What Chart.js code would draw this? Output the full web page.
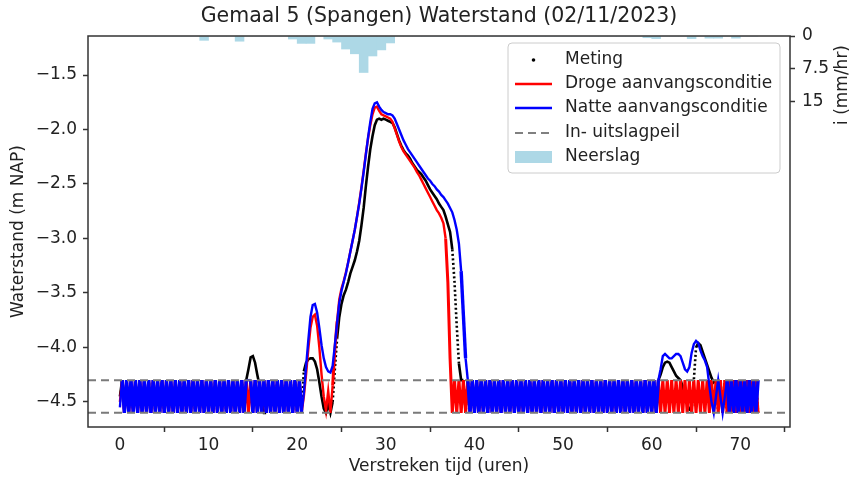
<!DOCTYPE html>
<html>
<head>
<meta charset="utf-8">
<script src="https://cdn.jsdelivr.net/npm/chart.js@4.4.1/dist/chart.umd.min.js"></script>
<style>
html,body{margin:0;padding:0;background:#fff;}
#wrap{width:854px;height:482px;}
</style>
</head>
<body>
<div id="wrap"><canvas id="c" width="854" height="482"></canvas></div>
<script>
// ---- DATA ----
const titel = 'Gemaal 5 (Spangen) Waterstand (02/11/2023)';
const xLabel = 'Verstreken tijd (uren)';
const yLabel = 'Waterstand (m NAP)';
const y2Label = 'i (mm/hr)';
const xTicks = [0, 10, 20, 30, 40, 50, 60, 70];
const yTicks = [-4.5, -4.0, -3.5, -3.0, -2.5, -2.0, -1.5];
const y2Ticks = [0, 7.5, 15];
const peilen = [-4.3, -4.6]; // in- en uitslagpeil

// time grid: every quarter hour, 0 .. 72 h
const tijd = Array.from({length: 289}, (_, i) => i * 0.25);

const meting = [
 -4.45,
 -4.3,-4.6,-4.3,-4.6,-4.3,-4.6,-4.3,-4.6,
 -4.3,-4.6,-4.3,-4.6,-4.3,-4.6,-4.3,-4.6,
 -4.3,-4.6,-4.3,-4.6,-4.3,-4.6,-4.3,-4.6,
 -4.3,-4.6,-4.3,-4.6,-4.3,-4.6,-4.3,-4.6,
 -4.3,-4.6,-4.3,-4.6,-4.3,-4.6,-4.3,-4.6,
 -4.3,-4.6,-4.3,-4.6,-4.3,-4.6,-4.3,-4.6,
 -4.3,-4.6,-4.3,-4.6,-4.3,-4.6,-4.3,-4.6,
 -4.3,-4.2,-4.09,-4.08,-4.14,-4.25,-4.35,-4.5,-4.6,
 -4.6,-4.3,-4.6,-4.3,-4.6,-4.3,-4.6,-4.3,
 -4.6,-4.3,-4.6,-4.3,-4.6,-4.3,-4.6,-4.3,
 -4.6,
 -4.22,-4.14,-4.11,-4.1,-4.1,-4.13,-4.2,-4.32,-4.45,-4.56,-4.6,-4.52,-4.6,-4.5,
 -4.2,-3.92,-3.72,-3.6,-3.52,-3.47,-3.4,-3.32,-3.26,-3.2,
 -3.12,-3.02,-2.88,-2.72,-2.52,-2.34,-2.18,-2.06,-1.96,-1.91,
 -1.9,-1.91,-1.9,-1.91,-1.92,-1.93,-1.94,-1.98,-2.04,-2.1,
 -2.15,-2.19,-2.22,-2.24,-2.27,-2.31,-2.34,-2.37,-2.39,-2.41,
 -2.44,-2.47,-2.51,-2.55,-2.58,-2.61,-2.64,-2.68,-2.71,-2.74,
 -2.8,-2.87,-2.94,-3.1,-3.4,-3.8,-4.15,-4.3,
 -4.3,-4.6,-4.3,-4.6,-4.3,-4.6,-4.3,-4.6,
 -4.3,-4.6,-4.3,-4.6,-4.3,-4.6,-4.3,-4.6,
 -4.3,-4.6,-4.3,-4.6,-4.3,-4.6,-4.3,-4.6,
 -4.3,-4.6,-4.3,-4.6,-4.3,-4.6,-4.3,-4.6,
 -4.3,-4.6,-4.3,-4.6,-4.3,-4.6,-4.3,-4.6,
 -4.3,-4.6,-4.3,-4.6,-4.3,-4.6,-4.3,-4.6,
 -4.3,-4.6,-4.3,-4.6,-4.3,-4.6,-4.3,-4.6,
 -4.3,-4.6,-4.3,-4.6,-4.3,-4.6,-4.3,-4.6,
 -4.3,-4.6,-4.3,-4.6,-4.3,-4.6,-4.3,-4.6,
 -4.3,-4.6,-4.3,-4.6,-4.3,-4.6,-4.3,-4.6,
 -4.3,-4.6,-4.3,-4.6,-4.3,-4.6,-4.3,-4.6,
 -4.3,
 -4.25,-4.18,-4.14,-4.13,-4.14,-4.18,-4.22,-4.26,-4.28,-4.3,
 -4.36,-4.45,-4.52,-4.57,-4.58,-4.3,-4.0,-3.96,-3.98,-4.04,
 -4.1,-4.16,-4.22,-4.28,-4.32,
 -4.3,-4.6,-4.3,-4.6,-4.3,-4.6,-4.3,-4.6,
 -4.3,-4.6,-4.3,-4.6,-4.3,-4.6,-4.3,-4.6,
 -4.3,-4.6,-4.3,-4.6
];

const droog = [
 -4.5,
 -4.3,-4.6,-4.3,-4.6,-4.3,-4.6,-4.3,-4.6,
 -4.3,-4.6,-4.3,-4.6,-4.3,-4.6,-4.3,-4.6,
 -4.3,-4.6,-4.3,-4.6,-4.3,-4.6,-4.3,-4.6,
 -4.3,-4.6,-4.3,-4.6,-4.3,-4.6,-4.3,-4.6,
 -4.3,-4.6,-4.3,-4.6,-4.3,-4.6,-4.3,-4.6,
 -4.3,-4.6,-4.3,-4.6,-4.3,-4.6,-4.3,-4.6,
 -4.3,-4.6,-4.3,-4.6,-4.3,-4.6,-4.3,-4.6,
 -4.3,-4.6,-4.3,-4.6,-4.3,-4.6,-4.3,-4.6,
 -4.3,-4.6,-4.3,-4.6,-4.3,-4.6,-4.3,-4.6,
 -4.3,-4.6,-4.3,-4.6,-4.3,-4.6,-4.3,-4.6,
 -4.3,-4.6,
 -4.45,-4.25,-4.02,-3.82,-3.72,-3.7,-3.8,-4.0,-4.25,-4.45,
 -4.58,-4.4,-4.6,-4.35,-4.02,-3.76,-3.56,-3.46,-3.39,-3.31,
 -3.22,-3.12,-3.02,-2.92,-2.8,-2.67,-2.53,-2.38,-2.22,-2.08,
 -1.96,-1.86,-1.8,-1.79,-1.83,-1.86,-1.87,-1.88,-1.89,-1.9,
 -1.93,-1.99,-2.05,-2.11,-2.16,-2.2,-2.23,-2.26,-2.29,-2.32,
 -2.35,-2.39,-2.42,-2.46,-2.5,-2.54,-2.58,-2.62,-2.66,-2.7,
 -2.74,-2.77,-2.81,-2.86,-3.0,-3.4,-4.1,-4.6,
 -4.3,-4.6,-4.3,-4.6,-4.3,-4.6,-4.3,-4.6,
 -4.3,-4.6,-4.3,-4.6,-4.3,-4.6,-4.3,-4.6,
 -4.3,-4.6,-4.3,-4.6,-4.3,-4.6,-4.3,-4.6,
 -4.3,-4.6,-4.3,-4.6,-4.3,-4.6,-4.3,-4.6,
 -4.3,-4.6,-4.3,-4.6,-4.3,-4.6,-4.3,-4.6,
 -4.3,-4.6,-4.3,-4.6,-4.3,-4.6,-4.3,-4.6,
 -4.3,-4.6,-4.3,-4.6,-4.3,-4.6,-4.3,-4.6,
 -4.3,-4.6,-4.3,-4.6,-4.3,-4.6,-4.3,-4.6,
 -4.3,-4.6,-4.3,-4.6,-4.3,-4.6,-4.3,-4.6,
 -4.3,-4.6,-4.3,-4.6,-4.3,-4.6,-4.3,-4.6,
 -4.3,-4.6,-4.3,-4.6,-4.3,-4.6,-4.3,-4.6,
 -4.3,-4.6,-4.3,-4.6,-4.3,-4.6,-4.3,-4.6,
 -4.3,-4.6,-4.3,-4.6,-4.3,-4.6,-4.3,-4.6,
 -4.3,-4.6,-4.3,-4.6,-4.3,-4.6,-4.3,-4.6,
 -4.3,-4.6,-4.3,-4.6,-4.3,-4.6,-4.3,-4.6,
 -4.3,-4.6,-4.3,-4.6,-4.3,-4.6,-4.3,-4.6,
 -4.3,-4.6,-4.3,-4.6,-4.3,-4.6,-4.3,-4.6,
 -4.3,-4.6
];

const nat = [
 -4.55,
 -4.3,-4.6,-4.3,-4.6,-4.3,-4.6,-4.3,-4.6,
 -4.3,-4.6,-4.3,-4.6,-4.3,-4.6,-4.3,-4.6,
 -4.3,-4.6,-4.3,-4.6,-4.3,-4.6,-4.3,-4.6,
 -4.3,-4.6,-4.3,-4.6,-4.3,-4.6,-4.3,-4.6,
 -4.3,-4.6,-4.3,-4.6,-4.3,-4.6,-4.3,-4.6,
 -4.3,-4.6,-4.3,-4.6,-4.3,-4.6,-4.3,-4.6,
 -4.3,-4.6,-4.3,-4.6,-4.3,-4.6,-4.3,-4.6,
 -4.3,-4.3,-4.3,
 -4.6,-4.3,-4.6,-4.3,-4.6,-4.3,-4.6,-4.3,
 -4.6,-4.3,-4.6,-4.3,-4.6,-4.3,-4.6,-4.3,
 -4.6,-4.3,-4.6,-4.3,-4.6,-4.3,
 -4.6,
 -4.42,-4.18,-3.94,-3.72,-3.61,-3.6,-3.68,-3.82,-3.98,-4.1,
 -4.18,-4.22,-4.23,-4.17,-3.98,-3.78,-3.59,-3.48,-3.4,-3.32,
 -3.22,-3.12,-3.02,-2.92,-2.8,-2.68,-2.54,-2.39,-2.23,-2.07,
 -1.93,-1.81,-1.76,-1.75,-1.79,-1.82,-1.84,-1.85,-1.86,-1.86,
 -1.87,-1.9,-1.95,-2.0,-2.05,-2.1,-2.14,-2.18,-2.21,-2.24,
 -2.27,-2.3,-2.33,-2.36,-2.39,-2.42,-2.45,-2.47,-2.5,-2.52,
 -2.55,-2.57,-2.6,-2.62,-2.65,-2.68,-2.72,-2.76,-2.83,-2.92,
 -3.05,-3.3,-3.7,-4.1,-4.3,
 -4.6,-4.3,-4.6,-4.3,-4.6,-4.3,-4.6,-4.3,
 -4.6,-4.3,-4.6,-4.3,-4.6,-4.3,-4.6,-4.3,
 -4.6,-4.3,-4.6,-4.3,-4.6,-4.3,-4.6,-4.3,
 -4.6,-4.3,-4.6,-4.3,-4.6,-4.3,-4.6,-4.3,
 -4.6,-4.3,-4.6,-4.3,-4.6,-4.3,-4.6,-4.3,
 -4.6,-4.3,-4.6,-4.3,-4.6,-4.3,-4.6,-4.3,
 -4.6,-4.3,-4.6,-4.3,-4.6,-4.3,-4.6,-4.3,
 -4.6,-4.3,-4.6,-4.3,-4.6,-4.3,-4.6,-4.3,
 -4.6,-4.3,-4.6,-4.3,-4.6,-4.3,-4.6,-4.3,
 -4.6,-4.3,-4.6,-4.3,-4.6,-4.3,-4.6,-4.3,
 -4.6,-4.3,-4.6,-4.3,-4.6,-4.3,
 -4.2,-4.08,-4.06,-4.08,-4.1,-4.1,-4.08,-4.06,-4.06,-4.08,
 -4.14,-4.2,-4.22,-4.18,-4.05,-3.97,-3.94,-3.96,-4.03,-4.08,
 -4.12,-4.18,-4.35,-4.5,-4.6,
 -4.45,-4.3,-4.45,-4.6,-4.45,-4.3,-4.6,-4.3,-4.6,-4.3,
 -4.6,-4.3,-4.6,-4.3,-4.6,-4.3,-4.6,-4.3,-4.6,-4.3
];

// hourly precipitation (mm/hr), hour 0 .. 71
const neerslag = [
 0,0,0,0,0,0,0,0,0,1.0,
 0,0,0,1.2,0,0,0,0,0,0.7,
 1.7,1.7,0,0.7,1.4,3.0,4.1,8.4,4.6,3.2,
 1.6,0,0,0,0,0,0,0,0,0,
 0,0,0,0,0,0,0,0,0,0,
 0,0,0,0,0,0,0,0,0,0.4,
 0.6,0,0,0,0.6,0,0.5,0.5,0,0.5,
 0,0
];
const uren = neerslag.map((_, h) => h + 0.5);

if (meting.length !== 289 || droog.length !== 289 || nat.length !== 289) {
  console.error('lengths', meting.length, droog.length, nat.length);
}

// ---- CHART ----
const FONT = 'DejaVu Sans';
const toXY = arr => tijd.map((t, i) => ({x: t, y: arr[i]}));
const fmt = v => (v < 0 ? '\u2212' : '') + Math.abs(v).toFixed(1);
const xMin = -3.6, xMax = 75.6;
const steep = c => Math.abs(c.p1.parsed.y - c.p0.parsed.y) > 0.25;

const deco = {
  id: 'deco',
  afterDraw(chart) {
    const ctx = chart.ctx, a = chart.chartArea;
    ctx.save();
    ctx.strokeStyle = '#333';
    ctx.lineWidth = 1.5;
    ctx.strokeRect(a.left, a.top, a.right - a.left, a.bottom - a.top);
    ctx.fillStyle = '#222';
    ctx.textAlign = 'center';
    ctx.textBaseline = 'middle';
    ctx.font = '20.5px "' + FONT + '"';
    ctx.fillText(titel, (a.left + a.right) / 2, 17);
    ctx.font = '17px "' + FONT + '"';
    ctx.fillText(xLabel, (a.left + a.right) / 2, 467);
    ctx.save();
    ctx.translate(19, (a.top + a.bottom) / 2);
    ctx.rotate(-Math.PI / 2);
    ctx.fillText(yLabel, 0, 0);
    ctx.restore();
    ctx.save();
    ctx.translate(843, 85);
    ctx.rotate(-Math.PI / 2);
    ctx.fillText(y2Label, 0, 0);
    ctx.restore();
    // legend
    const lx = 508, ly = 43, lw = 272, lh = 130;
    ctx.beginPath();
    ctx.roundRect(lx, ly, lw, lh, 4);
    ctx.fillStyle = 'rgba(255,255,255,0.85)';
    ctx.fill();
    ctx.strokeStyle = '#cccccc';
    ctx.lineWidth = 1;
    ctx.stroke();
    const items = ['Meting', 'Droge aanvangsconditie', 'Natte aanvangsconditie', 'In- uitslagpeil', 'Neerslag'];
    const ys = [60, 84, 108, 133, 157];
    const hx0 = 515, hx1 = 552;
    items.forEach((txt, k) => {
      const y = ys[k];
      ctx.save();
      if (k === 0) {
        ctx.fillStyle = '#000';
        ctx.beginPath(); ctx.arc((hx0 + hx1) / 2, y, 1.8, 0, Math.PI * 2); ctx.fill();
      } else if (k === 1 || k === 2) {
        ctx.strokeStyle = k === 1 ? '#ff0000' : '#0000ff';
        ctx.lineWidth = 2.5;
        ctx.beginPath(); ctx.moveTo(hx0, y); ctx.lineTo(hx1, y); ctx.stroke();
      } else if (k === 3) {
        ctx.strokeStyle = '#808080';
        ctx.lineWidth = 2;
        ctx.setLineDash([8, 5]);
        ctx.beginPath(); ctx.moveTo(hx0, y); ctx.lineTo(hx1, y); ctx.stroke();
      } else {
        ctx.fillStyle = '#add8e6';
        ctx.fillRect(hx0, y - 6, hx1 - hx0, 12);
      }
      ctx.restore();
      ctx.fillStyle = '#222';
      ctx.textAlign = 'left';
      ctx.textBaseline = 'middle';
      ctx.font = '17px "' + FONT + '"';
      ctx.fillText(txt, 565, y);
    });
    ctx.restore();
  }
};

const tickFont = {family: FONT, size: 17};

new Chart(document.getElementById('c'), {
  type: 'line',
  data: {
    datasets: [
      {
        type: 'bar', label: 'Neerslag', yAxisID: 'y2', order: 0,
        data: uren.map((u, i) => ({x: u, y: neerslag[i]})),
        backgroundColor: '#add8e6', borderWidth: 0,
        barPercentage: 1.0, categoryPercentage: 1.0
      },
      {
        label: 'In- uitslagpeil', order: 1,
        data: [{x: xMin, y: peilen[0]}, {x: xMax, y: peilen[0]}],
        borderColor: '#7a7a7a', borderWidth: 2, borderDash: [8, 5], pointRadius: 0
      },
      {
        label: 'In- uitslagpeil 2', order: 1,
        data: [{x: xMin, y: peilen[1]}, {x: xMax, y: peilen[1]}],
        borderColor: '#7a7a7a', borderWidth: 2, borderDash: [8, 5], pointRadius: 0
      },
      {
        label: 'Natte aanvangsconditie', order: 2,
        data: toXY(nat), borderColor: '#0000ff', borderWidth: 2.4,
        pointRadius: 0, tension: 0,
        segment: {borderWidth: c => steep(c) ? 3.4 : undefined}
      },
      {
        label: 'Droge aanvangsconditie', order: 3,
        data: toXY(droog), borderColor: '#ff0000', borderWidth: 2.4,
        pointRadius: 0, tension: 0,
        segment: {borderWidth: c => steep(c) ? 3.0 : undefined}
      },
      {
        label: 'Meting', order: 4,
        data: toXY(meting), borderColor: '#000000', borderWidth: 2.6,
        pointRadius: 0, tension: 0,
        segment: {borderDash: c => steep(c) ? [2, 2.5] : undefined}
      }
    ]
  },
  options: {
    responsive: false,
    animation: false,
    events: [],
    layout: {padding: {top: 36, left: 0, right: 0, bottom: 0}},
    plugins: {legend: {display: false}, tooltip: {enabled: false}, title: {display: false}},
    scales: {
      x: {
        type: 'linear', min: xMin, max: xMax, offset: false,
        afterBuildTicks: s => { s.ticks = xTicks.map(v => ({value: v})); },
        afterFit: s => { s.height = 55; },
        grid: {drawOnChartArea: false, drawTicks: true, tickLength: 5, tickColor: '#333', tickWidth: 1.5},
        border: {display: false},
        ticks: {font: tickFont, color: '#222', padding: 3, maxRotation: 0, autoSkip: false, callback: v => String(v)}
      },
      y: {
        type: 'linear', position: 'left', min: -4.73, max: -1.142,
        afterBuildTicks: s => { s.ticks = yTicks.map(v => ({value: v})); },
        afterFit: s => { s.width = 88; },
        grid: {drawOnChartArea: false, drawTicks: true, tickLength: 5, tickColor: '#333', tickWidth: 1.5},
        border: {display: false},
        ticks: {font: tickFont, color: '#222', padding: 6, autoSkip: false, callback: v => fmt(v)}
      },
      y2: {
        type: 'linear', position: 'right', min: 0, max: 90, reverse: true,
        afterBuildTicks: s => { s.ticks = y2Ticks.map(v => ({value: v})); },
        afterFit: s => { s.width = 64; },
        grid: {drawOnChartArea: false, drawTicks: true, tickLength: 5, tickColor: '#333', tickWidth: 1.5},
        border: {display: false},
        ticks: {font: tickFont, color: '#222', padding: 7, autoSkip: false, callback: v => (v === 7.5 ? '7.5' : String(v))}
      }
    }
  },
  plugins: [deco]
});
</script>
</body>
</html>
